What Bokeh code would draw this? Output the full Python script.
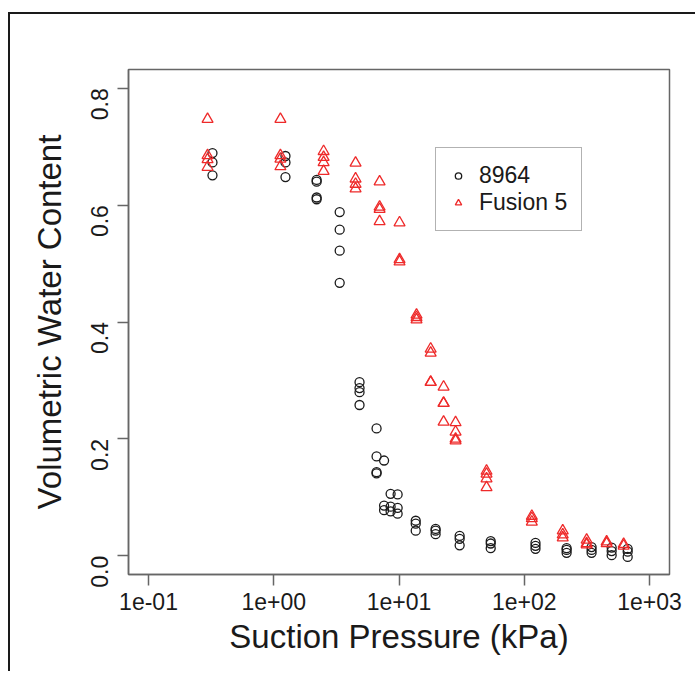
from bokeh.plotting import figure
from bokeh.models import (Range1d, FixedTicker, CustomJSTickFormatter, Legend, LegendItem)
from bokeh.embed import file_html
from bokeh.resources import INLINE
import math

# Series "8964" (black circles)
pressure_8964 = [0.324, 0.324, 0.324,
                 1.24, 1.24, 1.24,
                 2.2, 2.2, 2.2, 2.2,
                 3.36, 3.36, 3.36, 3.36,
                 4.84, 4.84, 4.84, 4.84,
                 6.62, 6.62, 6.62, 6.62,
                 7.6, 7.6, 7.6,
                 8.57, 8.57, 8.57,
                 9.75, 9.75, 9.75,
                 13.6, 13.6, 13.6,
                 19.6, 19.6, 19.6,
                 30.5, 30.5, 30.5,
                 54, 54, 54,
                 123, 123, 123,
                 218, 218, 218,
                 345, 345, 345,
                 499, 499, 499,
                 670, 670, 670]
vwc_8964 = [0.689, 0.673, 0.651,
            0.684, 0.673, 0.648,
            0.643, 0.640, 0.613, 0.610,
            0.588, 0.558, 0.522, 0.467,
            0.297, 0.287, 0.280, 0.258,
            0.218, 0.170, 0.143, 0.141,
            0.163, 0.086, 0.078,
            0.106, 0.084, 0.076,
            0.105, 0.082, 0.072,
            0.060, 0.055, 0.043,
            0.046, 0.043, 0.037,
            0.034, 0.029, 0.018,
            0.025, 0.021, 0.013,
            0.022, 0.017, 0.012,
            0.013, 0.010, 0.005,
            0.015, 0.010, 0.005,
            0.014, 0.008, 0.001,
            0.012, 0.007, -0.002]

# Series "Fusion 5" (red triangles)
pressure_fusion5 = [0.296, 0.296, 0.296, 0.296,
                    1.13, 1.13, 1.13, 1.13,
                    2.5, 2.5, 2.5, 2.5,
                    4.5, 4.5, 4.5, 4.5,
                    7.0, 7.0, 7.0, 7.0,
                    10.1, 10.1, 10.1,
                    13.8, 13.8, 13.8,
                    17.9, 17.9, 17.9, 17.9,
                    22.7, 22.7, 22.7, 22.7,
                    28.3, 28.3, 28.3, 28.3,
                    50, 50, 50, 50,
                    115, 115, 115,
                    203, 203, 203,
                    315, 315, 315,
                    455, 455,
                    622, 622]
vwc_fusion5 = [0.747, 0.685, 0.678, 0.665,
               0.747, 0.685, 0.679, 0.666,
               0.692, 0.682, 0.673, 0.658,
               0.672, 0.645, 0.636, 0.628,
               0.640, 0.597, 0.593, 0.572,
               0.570, 0.507, 0.503,
               0.412, 0.408, 0.404,
               0.354, 0.347, 0.297, 0.297,
               0.289, 0.261, 0.261, 0.229,
               0.228, 0.212, 0.200, 0.197,
               0.145, 0.140, 0.132, 0.117,
               0.068, 0.064, 0.058,
               0.043, 0.036, 0.031,
               0.027, 0.021, 0.019,
               0.024, 0.021,
               0.020, 0.017]

x_ticks = [0.1, 1, 10, 100, 1000]
y_ticks = [0.0, 0.2, 0.4, 0.6, 0.8]
series_names = ["8964", "Fusion 5"]

FONT = "Liberation Sans"
INK = "#1a1a1a"
BOX = "#666666"
RED = "#ee2a2a"

p = figure(width=687, height=659, x_axis_type="log", output_backend="svg",
           toolbar_location=None,
           x_range=Range1d(10 ** -1.16, 10 ** 3.16),
           y_range=Range1d(-0.032, 0.832),
           min_border_left=118, min_border_right=28,
           min_border_top=55, min_border_bottom=99)
p.styles = {"border-top": "2px solid #1a1a1a", "border-left": "2px solid #1a1a1a",
            "margin-top": "12px", "margin-left": "8px"}
p.xgrid.visible = False
p.ygrid.visible = False
p.outline_line_color = BOX
p.outline_line_width = 1.5
p.background_fill_color = "white"
p.border_fill_color = "white"

r1 = p.scatter(pressure_8964, vwc_8964, marker="circle", size=9, fill_color=None,
               line_color=INK, line_width=1.3)
r2 = p.scatter(pressure_fusion5, vwc_fusion5, marker="triangle", size=11, fill_color=None,
               line_color=RED, line_width=1.3)

p.xaxis.ticker = FixedTicker(ticks=x_ticks)
p.xaxis.formatter = CustomJSTickFormatter(code="""
const e = Math.round(Math.log10(tick));
const s = e < 0 ? '-' : '+';
return '1e' + s + String(Math.abs(e)).padStart(2, '0');
""")
p.yaxis.ticker = FixedTicker(ticks=y_ticks)
p.yaxis.formatter = CustomJSTickFormatter(code="return tick.toFixed(1);")
p.yaxis.major_label_orientation = math.pi / 2

for ax in (p.xaxis[0], p.yaxis[0]):
    ax.axis_line_color = BOX
    ax.axis_line_width = 1.5
    ax.major_tick_line_color = BOX
    ax.major_tick_line_width = 1.5
    ax.major_tick_out = 11
    ax.major_tick_in = 0
    ax.minor_tick_line_color = None
    ax.major_label_text_font = FONT
    ax.major_label_text_font_size = "23px"
    ax.major_label_text_color = INK
    ax.axis_label_text_font = FONT
    ax.axis_label_text_font_size = "33px"
    ax.axis_label_text_font_style = "normal"
    ax.axis_label_text_color = INK

p.xaxis.major_label_standoff = 7
p.xaxis.axis_label_standoff = 5
p.yaxis.major_label_standoff = 18
p.yaxis.axis_label_standoff = 12

p.xaxis.axis_label = "Suction Pressure (kPa)"
p.yaxis.axis_label = "Volumetric Water Content"

legend = Legend(items=[LegendItem(label=series_names[0], renderers=[r1]),
                       LegendItem(label=series_names[1], renderers=[r2])],
                location=(307, 343))
legend.label_text_font = FONT
legend.label_text_font_size = "23px"
legend.label_text_color = INK
legend.border_line_color = BOX
legend.border_line_width = 1.5
legend.padding = 14
legend.spacing = 0
legend.margin = 0
legend.glyph_width = 16
legend.glyph_height = 27
legend.label_height = 27
legend.label_standoff = 13
legend.background_fill_alpha = 1
p.add_layout(legend, "center")

open("out.html", "w").write(file_html(p, INLINE))
